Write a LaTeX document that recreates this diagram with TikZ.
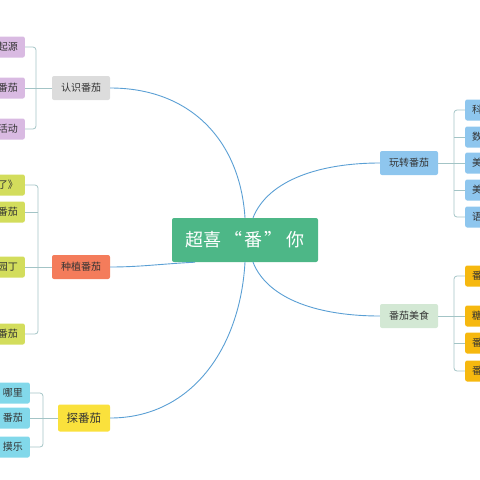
\documentclass[tikz,border=0pt]{standalone}
\usepackage{fontspec}
\newfontfamily\cjk{Noto Sans CJK SC}
\usetikzlibrary{positioning}

\definecolor{rootgreen}{HTML}{4DB787}
\definecolor{linkblue}{HTML}{5A9FD4}
\definecolor{bracketgray}{HTML}{A3C4C6}
\definecolor{topicgray}{HTML}{DCDCDC}
\definecolor{topicorange}{HTML}{F47C5B}
\definecolor{topicyellow}{HTML}{FAE13C}
\definecolor{topicblue}{HTML}{8EC6EE}
\definecolor{topicmint}{HTML}{D3E8D4}
\definecolor{leafpurple}{HTML}{D9BAE2}
\definecolor{leaflime}{HTML}{D3DD5C}
\definecolor{leafcyan}{HTML}{82D8EA}
\definecolor{leafamber}{HTML}{F6B80F}
\definecolor{inkgray}{HTML}{333333}

\tikzset{
  rootbox/.style={rectangle, rounded corners=2pt, fill=rootgreen, text=white,
    font=\cjk\fontsize{18}{18}\selectfont, minimum width=146pt, minimum height=44pt},
  topicbox/.style={rectangle, rounded corners=2pt, text=inkgray,
    font=\cjk\fontsize{10}{10}\selectfont, minimum width=58pt, minimum height=24pt, inner sep=0pt},
  leafleft/.style={rectangle, rounded corners=2pt, text=inkgray, anchor=east,
    font=\cjk\fontsize{10}{10}\selectfont, text width=44pt, align=right,
    inner xsep=7pt, minimum height=21pt},
  leafright/.style={rectangle, rounded corners=2pt, text=inkgray, anchor=west,
    font=\cjk\fontsize{10}{10}\selectfont, text width=44pt, align=left,
    inner xsep=7pt, minimum height=21pt},
  branch/.style={draw=linkblue, line width=0.9pt},
  bracket/.style={draw=bracketgray, line width=0.8pt, rounded corners=3pt}
}

\begin{document}
\begin{tikzpicture}[x=1pt, y=-1pt]
\useasboundingbox (0,0) rectangle (480,480);
\clip (0,0) rectangle (480,480);

% centre
\node[rootbox] at (245,240) (root) {超喜\hspace{4pt}“\hspace{2pt}番\hspace{2pt}”\hspace{4pt}你};

% main topics
\node[topicbox, fill=topicgray] at (81,88) (know) {认识番茄};
\node[topicbox, fill=topicorange] at (81,267) (grow) {种植番茄};
\node[topicbox, fill=topicyellow, minimum width=52pt, minimum height=27pt,
  font=\cjk\fontsize{11.5}{11.5}\selectfont] at (84,418) (explore) {探番茄};
\node[topicbox, fill=topicblue] at (409,163) (play) {玩转番茄};
\node[topicbox, fill=topicmint] at (409,316) (food) {番茄美食};

\draw[branch] (root.north) .. controls (240,140) and (190,88) .. (know.east);
\draw[branch] ([xshift=-50pt]root.south) .. controls (160,264) and (140,267) .. (grow.east);
\draw[branch] (root.south) .. controls (240,350) and (190,418) .. (explore.east);
\draw[branch] ([xshift=8pt]root.north) .. controls (268,180) and (320,163) .. (play.west);
\draw[branch] ([xshift=8pt]root.south) .. controls (268,300) and (320,316) .. (food.west);

% leaves of know
\node[leafleft, fill=leafpurple] at (25,47) (know1) {起源};
\node[leafleft, fill=leafpurple] at (25,88) (know2) {番茄};
\node[leafleft, fill=leafpurple] at (25,129) (know3) {活动};
\coordinate (knowbar) at (36,88);
\draw[bracket] (know1.east) -| (knowbar) |- (know3.east);
\draw[bracket] (know2.east) -- (know.west);

% leaves of grow
\node[leafleft, fill=leaflime] at (25,185) (grow1) {了》};
\node[leafleft, fill=leaflime] at (25,212) (grow2) {番茄};
\node[leafleft, fill=leaflime] at (25,267) (grow3) {园丁};
\node[leafleft, fill=leaflime] at (25,334) (grow4) {番茄};
\coordinate (growbar) at (38,267);
\draw[bracket] (grow1.east) -| (growbar) |- (grow4.east);
\draw[bracket] (grow2.east) -- (grow2.east -| growbar);
\draw[bracket] (grow3.east) -- (grow.west);

% leaves of explore
\node[leafleft, fill=leafcyan] at (30,393) (explore1) {哪里};
\node[leafleft, fill=leafcyan] at (30,418) (explore2) {番茄};
\node[leafleft, fill=leafcyan] at (30,447) (explore3) {摸乐};
\coordinate (explorebar) at (43,418);
\draw[bracket] (explore1.east) -| (explorebar) |- (explore3.east);
\draw[bracket] (explore2.east) -- (explore.west);

% leaves of play
\node[leafright, fill=topicblue] at (465,110) (play1) {科};
\node[leafright, fill=topicblue] at (465,137) (play2) {数};
\node[leafright, fill=topicblue] at (465,163) (play3) {美};
\node[leafright, fill=topicblue] at (465,190) (play4) {美};
\node[leafright, fill=topicblue] at (465,217) (play5) {语};
\coordinate (playbar) at (454,163);
\draw[bracket] (play1.west) -| (playbar) |- (play5.west);
\draw[bracket] (play2.west) -- (play2.west -| playbar);
\draw[bracket] (play4.west) -- (play4.west -| playbar);
\draw[bracket] (play.east) -- (play3.west);

% leaves of food
\node[leafright, fill=leafamber] at (465,276) (food1) {番};
\node[leafright, fill=leafamber] at (465,316) (food2) {糖};
\node[leafright, fill=leafamber] at (465,343) (food3) {番};
\node[leafright, fill=leafamber] at (465,371) (food4) {番};
\coordinate (foodbar) at (454,316);
\draw[bracket] (food1.west) -| (foodbar) |- (food4.west);
\draw[bracket] (food3.west) -- (food3.west -| foodbar);
\draw[bracket] (food.east) -- (food2.west);
\end{tikzpicture}
\end{document}
